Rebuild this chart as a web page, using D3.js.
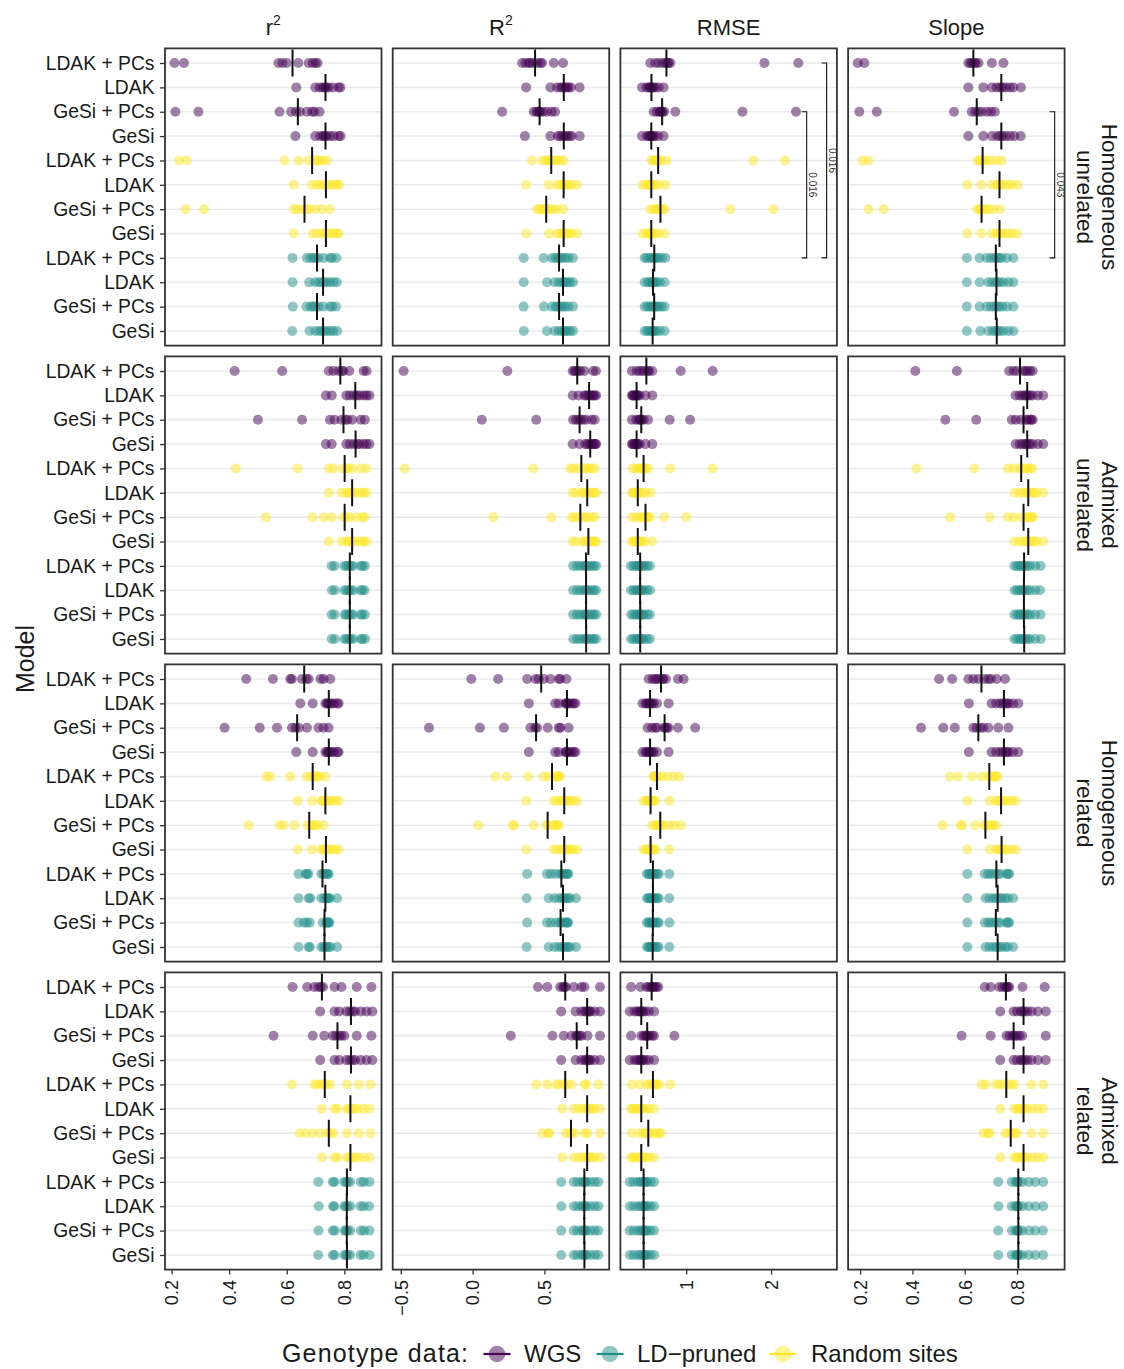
<!DOCTYPE html>
<html>
<head>
<meta charset="utf-8">
<script src="https://cdn.jsdelivr.net/npm/d3@7"></script>
<style>
  body { margin: 0; background: #fff; }
  svg { display: block; font-family: "Liberation Sans", Arial, Helvetica, sans-serif; }
</style>
</head>
<body>
<svg id="chart" width="1124" height="1369"></svg>
<script>
// ---- categories -------------------------------------------------------------
const metrics = ["r2", "R2", "RMSE", "Slope"];
const scenarios = [
  ["Homogeneous", "unrelated"],
  ["Admixed", "unrelated"],
  ["Homogeneous", "related"],
  ["Admixed", "related"]
];
const models = ["LDAK + PCs", "LDAK", "GeSi + PCs", "GeSi"];
const genotypes = ["WGS", "LD\u2212pruned", "Random sites"];
const genotypeColors = ["#440154", "#21908C", "#FDE725"];
// genotype index of each of the 12 rows in a panel (top to bottom)
const rowGenotype = [0, 0, 0, 0, 2, 2, 2, 2, 1, 1, 1, 1];
const rowModel = [0, 1, 2, 3, 0, 1, 2, 3, 0, 1, 2, 3];

// ---- tick labels ------------------------------------------------------------
const xTicks = [[0.2, 0.4, 0.6, 0.8], [-0.5, 0, 0.5], [1, 2], [0.2, 0.4, 0.6, 0.8]];
const xDomains = [[0.177, 0.929], [-0.556, 0.951], [0.224, 2.776], [0.154, 0.982]];

// ---- replicate values: one array of 10 replicates per row -------------------
// Homogeneous, unrelated
const hu_r2 = [
  [0.21, 0.243, 0.571, 0.585, 0.60, 0.64, 0.676, 0.69, 0.70, 0.707],
  [0.633, 0.699, 0.714, 0.725, 0.732, 0.737, 0.745, 0.76, 0.78, 0.786],
  [0.213, 0.293, 0.575, 0.615, 0.632, 0.645, 0.67, 0.688, 0.696, 0.714],
  [0.63, 0.699, 0.716, 0.726, 0.732, 0.737, 0.75, 0.762, 0.78, 0.787],
  [0.226, 0.253, 0.592, 0.641, 0.676, 0.70, 0.705, 0.714, 0.728, 0.74],
  [0.624, 0.688, 0.705, 0.717, 0.732, 0.74, 0.751, 0.763, 0.775, 0.782],
  [0.249, 0.313, 0.624, 0.636, 0.655, 0.668, 0.678, 0.699, 0.722, 0.749],
  [0.624, 0.69, 0.705, 0.72, 0.732, 0.74, 0.752, 0.763, 0.775, 0.78],
  [0.62, 0.67, 0.682, 0.693, 0.70, 0.71, 0.728, 0.751, 0.757, 0.772],
  [0.62, 0.678, 0.699, 0.711, 0.722, 0.73, 0.74, 0.751, 0.763, 0.774],
  [0.621, 0.668, 0.683, 0.692, 0.699, 0.711, 0.727, 0.75, 0.758, 0.771],
  [0.619, 0.679, 0.698, 0.712, 0.721, 0.731, 0.741, 0.752, 0.762, 0.775]
];
const hu_R2 = [
  [0.345, 0.368, 0.391, 0.403, 0.42, 0.45, 0.472, 0.484, 0.565, 0.63],
  [0.373, 0.542, 0.588, 0.611, 0.627, 0.643, 0.657, 0.668, 0.685, 0.745],
  [0.206, 0.426, 0.444, 0.456, 0.463, 0.47, 0.49, 0.516, 0.55, 0.574],
  [0.364, 0.542, 0.593, 0.611, 0.627, 0.643, 0.657, 0.675, 0.69, 0.745],
  [0.414, 0.484, 0.507, 0.523, 0.542, 0.553, 0.57, 0.588, 0.611, 0.634],
  [0.373, 0.53, 0.588, 0.611, 0.627, 0.641, 0.65, 0.668, 0.69, 0.727],
  [0.45, 0.465, 0.484, 0.495, 0.507, 0.518, 0.537, 0.56, 0.588, 0.63],
  [0.373, 0.532, 0.588, 0.611, 0.627, 0.641, 0.652, 0.668, 0.69, 0.727],
  [0.356, 0.495, 0.553, 0.576, 0.593, 0.611, 0.627, 0.646, 0.668, 0.698],
  [0.356, 0.518, 0.57, 0.60, 0.622, 0.637, 0.646, 0.662, 0.68, 0.70],
  [0.355, 0.497, 0.553, 0.577, 0.592, 0.612, 0.627, 0.645, 0.668, 0.699],
  [0.357, 0.518, 0.571, 0.60, 0.621, 0.638, 0.646, 0.663, 0.68, 0.70]
];
const hu_rmse = [
  [0.576, 0.635, 0.675, 0.722, 0.753, 0.78, 0.792, 0.812, 1.921, 2.321],
  [0.479, 0.53, 0.557, 0.573, 0.584, 0.596, 0.612, 0.635, 0.675, 0.733],
  [0.616, 0.655, 0.682, 0.698, 0.71, 0.722, 0.741, 0.871, 1.663, 2.294],
  [0.479, 0.537, 0.557, 0.573, 0.584, 0.592, 0.612, 0.627, 0.67, 0.733],
  [0.588, 0.616, 0.635, 0.655, 0.663, 0.675, 0.706, 0.773, 1.792, 2.165],
  [0.486, 0.53, 0.557, 0.573, 0.584, 0.592, 0.604, 0.635, 0.675, 0.753],
  [0.576, 0.616, 0.643, 0.667, 0.686, 0.706, 0.722, 0.745, 1.518, 2.027],
  [0.486, 0.53, 0.557, 0.573, 0.584, 0.592, 0.604, 0.635, 0.675, 0.745],
  [0.51, 0.537, 0.569, 0.596, 0.616, 0.631, 0.651, 0.675, 0.714, 0.753],
  [0.51, 0.545, 0.569, 0.592, 0.604, 0.612, 0.631, 0.655, 0.69, 0.745],
  [0.51, 0.541, 0.569, 0.596, 0.616, 0.628, 0.651, 0.675, 0.71, 0.745],
  [0.51, 0.537, 0.565, 0.588, 0.60, 0.608, 0.627, 0.651, 0.69, 0.745]
];
const hu_slope = [
  [0.191, 0.216, 0.614, 0.622, 0.629, 0.637, 0.643, 0.653, 0.704, 0.748],
  [0.614, 0.671, 0.704, 0.722, 0.735, 0.745, 0.757, 0.773, 0.786, 0.815],
  [0.197, 0.264, 0.559, 0.627, 0.64, 0.652, 0.664, 0.684, 0.70, 0.715],
  [0.614, 0.671, 0.704, 0.725, 0.735, 0.745, 0.757, 0.773, 0.79, 0.814],
  [0.209, 0.232, 0.65, 0.659, 0.666, 0.671, 0.684, 0.70, 0.722, 0.741],
  [0.61, 0.664, 0.704, 0.722, 0.728, 0.738, 0.748, 0.767, 0.78, 0.802],
  [0.232, 0.29, 0.648, 0.659, 0.662, 0.667, 0.68, 0.692, 0.709, 0.735],
  [0.61, 0.664, 0.704, 0.722, 0.728, 0.738, 0.748, 0.767, 0.78, 0.80],
  [0.608, 0.657, 0.684, 0.70, 0.714, 0.724, 0.731, 0.741, 0.761, 0.786],
  [0.608, 0.657, 0.69, 0.704, 0.717, 0.726, 0.735, 0.748, 0.767, 0.786],
  [0.608, 0.657, 0.684, 0.70, 0.714, 0.724, 0.731, 0.744, 0.761, 0.786],
  [0.608, 0.66, 0.69, 0.707, 0.718, 0.727, 0.735, 0.748, 0.767, 0.786]
];

// Admixed, unrelated
const au_r2 = [
  [0.419, 0.584, 0.746, 0.762, 0.78, 0.792, 0.797, 0.817, 0.867, 0.877],
  [0.736, 0.756, 0.807, 0.819, 0.833, 0.843, 0.853, 0.867, 0.877, 0.887],
  [0.50, 0.653, 0.75, 0.766, 0.79, 0.804, 0.811, 0.827, 0.857, 0.871],
  [0.736, 0.756, 0.807, 0.819, 0.833, 0.845, 0.853, 0.867, 0.877, 0.887],
  [0.423, 0.637, 0.746, 0.762, 0.795, 0.807, 0.815, 0.828, 0.857, 0.877],
  [0.746, 0.79, 0.807, 0.815, 0.823, 0.831, 0.843, 0.857, 0.867, 0.877],
  [0.528, 0.689, 0.729, 0.756, 0.795, 0.807, 0.82, 0.843, 0.863, 0.871],
  [0.746, 0.79, 0.807, 0.815, 0.823, 0.831, 0.843, 0.857, 0.867, 0.877],
  [0.756, 0.766, 0.80, 0.807, 0.815, 0.823, 0.83, 0.857, 0.863, 0.871],
  [0.757, 0.767, 0.80, 0.808, 0.816, 0.822, 0.831, 0.856, 0.863, 0.87],
  [0.756, 0.766, 0.801, 0.807, 0.815, 0.823, 0.83, 0.857, 0.862, 0.871],
  [0.756, 0.767, 0.80, 0.807, 0.816, 0.822, 0.831, 0.857, 0.863, 0.872]
];
const au_R2 = [
  [-0.48, 0.242, 0.697, 0.71, 0.72, 0.737, 0.75, 0.778, 0.84, 0.859],
  [0.697, 0.737, 0.778, 0.79, 0.805, 0.817, 0.83, 0.84, 0.85, 0.86],
  [0.064, 0.443, 0.70, 0.72, 0.737, 0.753, 0.77, 0.79, 0.83, 0.85],
  [0.697, 0.745, 0.785, 0.80, 0.812, 0.826, 0.835, 0.845, 0.855, 0.86],
  [-0.472, 0.423, 0.68, 0.70, 0.737, 0.777, 0.79, 0.805, 0.83, 0.85],
  [0.697, 0.72, 0.76, 0.78, 0.792, 0.804, 0.815, 0.83, 0.85, 0.86],
  [0.145, 0.548, 0.69, 0.71, 0.735, 0.765, 0.78, 0.80, 0.83, 0.85],
  [0.697, 0.72, 0.765, 0.785, 0.80, 0.812, 0.82, 0.835, 0.85, 0.86],
  [0.70, 0.725, 0.745, 0.77, 0.785, 0.795, 0.81, 0.83, 0.845, 0.86],
  [0.70, 0.726, 0.746, 0.77, 0.786, 0.794, 0.81, 0.83, 0.846, 0.86],
  [0.70, 0.725, 0.745, 0.771, 0.785, 0.795, 0.81, 0.831, 0.845, 0.861],
  [0.701, 0.725, 0.745, 0.77, 0.785, 0.796, 0.811, 0.83, 0.845, 0.86]
];
const au_rmse = [
  [0.36, 0.415, 0.45, 0.48, 0.51, 0.55, 0.56, 0.60, 0.935, 1.311],
  [0.36, 0.37, 0.38, 0.395, 0.41, 0.42, 0.43, 0.45, 0.52, 0.60],
  [0.36, 0.41, 0.44, 0.455, 0.465, 0.475, 0.50, 0.55, 0.805, 1.045],
  [0.36, 0.37, 0.385, 0.395, 0.41, 0.42, 0.43, 0.45, 0.52, 0.60],
  [0.37, 0.40, 0.44, 0.46, 0.49, 0.505, 0.52, 0.55, 0.81, 1.311],
  [0.36, 0.38, 0.395, 0.41, 0.42, 0.438, 0.45, 0.48, 0.52, 0.58],
  [0.36, 0.41, 0.46, 0.49, 0.51, 0.53, 0.55, 0.57, 0.74, 1.00],
  [0.36, 0.38, 0.395, 0.41, 0.42, 0.438, 0.455, 0.48, 0.52, 0.60],
  [0.35, 0.38, 0.41, 0.43, 0.45, 0.464, 0.48, 0.50, 0.54, 0.57],
  [0.35, 0.381, 0.41, 0.431, 0.45, 0.463, 0.48, 0.501, 0.54, 0.572],
  [0.352, 0.38, 0.41, 0.43, 0.451, 0.464, 0.479, 0.50, 0.541, 0.57],
  [0.35, 0.38, 0.411, 0.43, 0.45, 0.465, 0.48, 0.50, 0.54, 0.571]
];
const au_slope = [
  [0.411, 0.57, 0.77, 0.787, 0.80, 0.823, 0.832, 0.84, 0.85, 0.86],
  [0.795, 0.81, 0.82, 0.83, 0.835, 0.843, 0.85, 0.86, 0.88, 0.90],
  [0.526, 0.644, 0.78, 0.795, 0.815, 0.835, 0.84, 0.85, 0.855, 0.86],
  [0.795, 0.81, 0.82, 0.83, 0.835, 0.843, 0.85, 0.86, 0.88, 0.90],
  [0.415, 0.637, 0.765, 0.787, 0.81, 0.822, 0.83, 0.84, 0.85, 0.858],
  [0.79, 0.81, 0.825, 0.835, 0.84, 0.846, 0.855, 0.865, 0.875, 0.90],
  [0.544, 0.695, 0.765, 0.787, 0.815, 0.835, 0.84, 0.85, 0.855, 0.86],
  [0.79, 0.81, 0.825, 0.835, 0.84, 0.846, 0.855, 0.865, 0.875, 0.90],
  [0.79, 0.80, 0.81, 0.815, 0.823, 0.831, 0.84, 0.85, 0.87, 0.89],
  [0.791, 0.80, 0.81, 0.816, 0.823, 0.83, 0.84, 0.851, 0.87, 0.888],
  [0.79, 0.801, 0.81, 0.815, 0.822, 0.831, 0.841, 0.85, 0.869, 0.89],
  [0.79, 0.80, 0.811, 0.815, 0.823, 0.832, 0.84, 0.85, 0.87, 0.891]
];

// Homogeneous, related
const hr_r2 = [
  [0.459, 0.552, 0.612, 0.618, 0.653, 0.668, 0.676, 0.717, 0.728, 0.751],
  [0.647, 0.69, 0.734, 0.74, 0.743, 0.749, 0.755, 0.763, 0.775, 0.78],
  [0.384, 0.506, 0.566, 0.618, 0.63, 0.642, 0.67, 0.71, 0.728, 0.745],
  [0.633, 0.69, 0.734, 0.74, 0.743, 0.749, 0.755, 0.763, 0.775, 0.78],
  [0.529, 0.543, 0.612, 0.67, 0.685, 0.695, 0.70, 0.705, 0.715, 0.734],
  [0.638, 0.688, 0.72, 0.726, 0.73, 0.738, 0.745, 0.755, 0.77, 0.78],
  [0.467, 0.575, 0.59, 0.627, 0.672, 0.684, 0.692, 0.70, 0.706, 0.728],
  [0.638, 0.688, 0.72, 0.728, 0.732, 0.74, 0.746, 0.757, 0.77, 0.78],
  [0.641, 0.665, 0.67, 0.675, 0.72, 0.728, 0.734, 0.738, 0.742, 0.745],
  [0.641, 0.676, 0.682, 0.72, 0.73, 0.738, 0.742, 0.745, 0.75, 0.775],
  [0.641, 0.66, 0.67, 0.68, 0.725, 0.737, 0.74, 0.742, 0.745, 0.748],
  [0.641, 0.676, 0.68, 0.72, 0.728, 0.734, 0.74, 0.745, 0.752, 0.775]
];
const hr_R2 = [
  [-0.009, 0.178, 0.38, 0.4375, 0.46, 0.495, 0.542, 0.60, 0.611, 0.653],
  [0.392, 0.576, 0.60, 0.645, 0.652, 0.662, 0.67, 0.69, 0.704, 0.716],
  [-0.303, 0.051, 0.218, 0.403, 0.435, 0.449, 0.523, 0.60, 0.611, 0.668],
  [0.392, 0.576, 0.60, 0.645, 0.652, 0.662, 0.67, 0.69, 0.704, 0.716],
  [0.16, 0.236, 0.387, 0.495, 0.53, 0.576, 0.585, 0.595, 0.60, 0.605],
  [0.373, 0.565, 0.588, 0.62, 0.633, 0.643, 0.66, 0.68, 0.70, 0.727],
  [0.039, 0.28, 0.29, 0.426, 0.515, 0.53, 0.565, 0.58, 0.59, 0.60],
  [0.373, 0.565, 0.588, 0.62, 0.633, 0.643, 0.66, 0.68, 0.70, 0.727],
  [0.38, 0.518, 0.545, 0.576, 0.61, 0.626, 0.64, 0.655, 0.66, 0.665],
  [0.376, 0.53, 0.57, 0.60, 0.622, 0.637, 0.65, 0.665, 0.68, 0.72],
  [0.38, 0.518, 0.545, 0.58, 0.605, 0.62, 0.64, 0.655, 0.66, 0.665],
  [0.376, 0.53, 0.57, 0.60, 0.622, 0.637, 0.65, 0.665, 0.68, 0.72]
];
const hr_rmse = [
  [0.557, 0.604, 0.635, 0.655, 0.685, 0.72, 0.73, 0.761, 0.902, 0.969],
  [0.486, 0.52, 0.537, 0.557, 0.567, 0.58, 0.596, 0.616, 0.655, 0.792],
  [0.545, 0.596, 0.635, 0.655, 0.737, 0.753, 0.773, 0.79, 0.902, 1.106],
  [0.486, 0.52, 0.537, 0.557, 0.567, 0.58, 0.596, 0.616, 0.655, 0.792],
  [0.616, 0.625, 0.635, 0.645, 0.65, 0.66, 0.72, 0.78, 0.85, 0.92],
  [0.498, 0.53, 0.55, 0.565, 0.575, 0.585, 0.60, 0.62, 0.64, 0.80],
  [0.60, 0.63, 0.66, 0.675, 0.69, 0.698, 0.73, 0.80, 0.86, 0.94],
  [0.498, 0.53, 0.55, 0.565, 0.575, 0.585, 0.60, 0.62, 0.64, 0.80],
  [0.537, 0.557, 0.57, 0.59, 0.60, 0.615, 0.635, 0.66, 0.675, 0.80],
  [0.537, 0.555, 0.571, 0.59, 0.601, 0.614, 0.636, 0.66, 0.676, 0.80],
  [0.536, 0.557, 0.57, 0.591, 0.60, 0.613, 0.635, 0.661, 0.675, 0.801],
  [0.537, 0.556, 0.57, 0.59, 0.598, 0.611, 0.634, 0.66, 0.674, 0.80]
];
const hr_slope = [
  [0.502, 0.552, 0.614, 0.633, 0.652, 0.676, 0.69, 0.70, 0.722, 0.754],
  [0.616, 0.703, 0.72, 0.735, 0.745, 0.755, 0.762, 0.77, 0.785, 0.805],
  [0.433, 0.518, 0.562, 0.633, 0.645, 0.659, 0.67, 0.69, 0.728, 0.767],
  [0.616, 0.703, 0.72, 0.735, 0.745, 0.755, 0.762, 0.77, 0.785, 0.805],
  [0.543, 0.575, 0.627, 0.664, 0.688, 0.70, 0.71, 0.715, 0.72, 0.725],
  [0.61, 0.696, 0.72, 0.73, 0.735, 0.743, 0.75, 0.765, 0.78, 0.795],
  [0.515, 0.585, 0.59, 0.64, 0.675, 0.683, 0.69, 0.70, 0.71, 0.72],
  [0.61, 0.696, 0.72, 0.73, 0.737, 0.745, 0.752, 0.765, 0.78, 0.795],
  [0.61, 0.677, 0.69, 0.70, 0.715, 0.727, 0.735, 0.76, 0.765, 0.77],
  [0.61, 0.68, 0.695, 0.71, 0.72, 0.732, 0.74, 0.755, 0.765, 0.785],
  [0.61, 0.677, 0.69, 0.70, 0.713, 0.725, 0.735, 0.76, 0.765, 0.77],
  [0.61, 0.68, 0.695, 0.71, 0.72, 0.732, 0.74, 0.755, 0.765, 0.785]
];

// Admixed, related
const ar_r2 = [
  [0.62, 0.671, 0.695, 0.71, 0.718, 0.726, 0.766, 0.79, 0.843, 0.894],
  [0.716, 0.766, 0.782, 0.807, 0.818, 0.828, 0.837, 0.857, 0.877, 0.897],
  [0.554, 0.69, 0.73, 0.76, 0.77, 0.782, 0.79, 0.80, 0.843, 0.894],
  [0.716, 0.766, 0.782, 0.807, 0.818, 0.828, 0.837, 0.857, 0.877, 0.897],
  [0.618, 0.695, 0.705, 0.72, 0.728, 0.736, 0.75, 0.809, 0.85, 0.89],
  [0.722, 0.766, 0.776, 0.81, 0.818, 0.824, 0.835, 0.847, 0.867, 0.887],
  [0.645, 0.665, 0.69, 0.716, 0.742, 0.75, 0.762, 0.809, 0.85, 0.89],
  [0.722, 0.766, 0.776, 0.81, 0.818, 0.824, 0.835, 0.847, 0.867, 0.887],
  [0.71, 0.76, 0.766, 0.80, 0.806, 0.812, 0.82, 0.857, 0.867, 0.887],
  [0.711, 0.761, 0.765, 0.80, 0.805, 0.812, 0.821, 0.856, 0.867, 0.886],
  [0.71, 0.76, 0.767, 0.801, 0.806, 0.811, 0.82, 0.857, 0.868, 0.887],
  [0.709, 0.76, 0.766, 0.80, 0.806, 0.812, 0.82, 0.856, 0.867, 0.888]
];
const ar_R2 = [
  [0.455, 0.52, 0.61, 0.63, 0.64, 0.65, 0.705, 0.757, 0.778, 0.887],
  [0.617, 0.717, 0.757, 0.78, 0.79, 0.805, 0.815, 0.82, 0.85, 0.887],
  [0.266, 0.556, 0.635, 0.69, 0.72, 0.73, 0.745, 0.757, 0.80, 0.887],
  [0.617, 0.717, 0.757, 0.78, 0.79, 0.805, 0.815, 0.82, 0.85, 0.887],
  [0.443, 0.52, 0.585, 0.60, 0.635, 0.655, 0.69, 0.78, 0.79, 0.875],
  [0.625, 0.705, 0.737, 0.77, 0.79, 0.805, 0.815, 0.83, 0.85, 0.887],
  [0.485, 0.53, 0.53, 0.65, 0.68, 0.69, 0.71, 0.78, 0.80, 0.887],
  [0.625, 0.705, 0.737, 0.77, 0.79, 0.805, 0.815, 0.83, 0.85, 0.887],
  [0.617, 0.705, 0.73, 0.76, 0.772, 0.784, 0.79, 0.82, 0.85, 0.875],
  [0.618, 0.705, 0.731, 0.76, 0.771, 0.784, 0.791, 0.82, 0.85, 0.876],
  [0.617, 0.704, 0.73, 0.761, 0.772, 0.783, 0.79, 0.821, 0.85, 0.875],
  [0.617, 0.705, 0.73, 0.76, 0.772, 0.785, 0.79, 0.82, 0.851, 0.875]
];
const ar_rmse = [
  [0.35, 0.46, 0.53, 0.56, 0.585, 0.60, 0.61, 0.63, 0.65, 0.67],
  [0.334, 0.39, 0.42, 0.445, 0.46, 0.48, 0.49, 0.52, 0.56, 0.621],
  [0.35, 0.47, 0.50, 0.52, 0.535, 0.545, 0.57, 0.60, 0.62, 0.86],
  [0.334, 0.39, 0.42, 0.445, 0.46, 0.48, 0.49, 0.52, 0.56, 0.621],
  [0.36, 0.45, 0.53, 0.57, 0.60, 0.615, 0.63, 0.65, 0.68, 0.81],
  [0.35, 0.37, 0.40, 0.44, 0.465, 0.475, 0.49, 0.52, 0.56, 0.62],
  [0.36, 0.45, 0.50, 0.52, 0.545, 0.56, 0.60, 0.64, 0.68, 0.70],
  [0.35, 0.37, 0.40, 0.44, 0.465, 0.475, 0.49, 0.52, 0.56, 0.62],
  [0.334, 0.38, 0.43, 0.46, 0.49, 0.505, 0.52, 0.54, 0.58, 0.62],
  [0.335, 0.38, 0.431, 0.46, 0.491, 0.504, 0.52, 0.541, 0.58, 0.621],
  [0.334, 0.381, 0.43, 0.461, 0.49, 0.505, 0.519, 0.54, 0.579, 0.62],
  [0.336, 0.38, 0.43, 0.46, 0.49, 0.506, 0.52, 0.54, 0.58, 0.622]
];
const ar_slope = [
  [0.677, 0.699, 0.732, 0.745, 0.755, 0.76, 0.765, 0.77, 0.821, 0.906],
  [0.736, 0.787, 0.80, 0.815, 0.82, 0.83, 0.84, 0.856, 0.88, 0.91],
  [0.588, 0.699, 0.76, 0.772, 0.783, 0.791, 0.80, 0.81, 0.82, 0.91],
  [0.736, 0.787, 0.80, 0.815, 0.82, 0.83, 0.84, 0.856, 0.88, 0.91],
  [0.665, 0.68, 0.72, 0.735, 0.75, 0.768, 0.78, 0.79, 0.855, 0.90],
  [0.736, 0.79, 0.80, 0.81, 0.82, 0.83, 0.84, 0.86, 0.88, 0.90],
  [0.673, 0.69, 0.695, 0.755, 0.77, 0.782, 0.79, 0.80, 0.855, 0.90],
  [0.736, 0.79, 0.80, 0.81, 0.82, 0.83, 0.84, 0.86, 0.88, 0.90],
  [0.728, 0.78, 0.795, 0.80, 0.803, 0.807, 0.82, 0.845, 0.87, 0.90],
  [0.729, 0.78, 0.794, 0.80, 0.804, 0.806, 0.821, 0.845, 0.871, 0.90],
  [0.728, 0.781, 0.795, 0.801, 0.803, 0.807, 0.82, 0.846, 0.87, 0.899],
  [0.728, 0.78, 0.795, 0.80, 0.802, 0.808, 0.82, 0.845, 0.87, 0.90]
];

// pairwise comparison brackets (p-values)
const brackets = [
  { row: 0, col: 2, from: 0, to: 8, at: 2.655, label: "0.016" },
  { row: 0, col: 2, from: 2, to: 8, at: 2.42, label: "0.016" },
  { row: 0, col: 3, from: 2, to: 8, at: 0.944, label: "0.043" }
];

const panelData = [
  [hu_r2, hu_R2, hu_rmse, hu_slope],
  [au_r2, au_R2, au_rmse, au_slope],
  [hr_r2, hr_R2, hr_rmse, hr_slope],
  [ar_r2, ar_R2, ar_rmse, ar_slope]
];

// ---- layout -----------------------------------------------------------------
const svg = d3.select("#chart");
const colLeft = [165, 392.7, 620.4, 848.1];
const panelW = 216.5;
const rowTop = [48.4, 356.4, 664.4, 972.4];
const panelH = 297.2;
const textColor = "#1a1a1a";

const xScales = xDomains.map((dom, c) =>
  d3.scaleLinear().domain(dom).range([colLeft[c], colLeft[c] + panelW]));
const yScales = rowTop.map(top =>
  d3.scalePoint().domain(d3.range(12)).range([top, top + panelH]).padding(0.6));

const defs = svg.append("defs");

panelData.forEach((rowPanels, r) => {
  const y = yScales[r];
  rowPanels.forEach((values, c) => {
    const x = xScales[c];
    const left = colLeft[c], top = rowTop[r];
    const clipId = `clip-${r}-${c}`;
    defs.append("clipPath").attr("id", clipId)
      .append("rect").attr("x", left).attr("y", top).attr("width", panelW).attr("height", panelH);

    const g = svg.append("g").attr("clip-path", `url(#${clipId})`);

    // horizontal grid at each model row
    g.selectAll("line.grid").data(d3.range(12)).join("line")
      .attr("class", "grid")
      .attr("x1", left).attr("x2", left + panelW)
      .attr("y1", d => y(d)).attr("y2", d => y(d))
      .attr("stroke", "#ebebeb").attr("stroke-width", 1.5);

    // replicate points
    const pts = values.flatMap((vals, i) => vals.map(v => ({ i, v })));
    g.selectAll("circle").data(pts).join("circle")
      .attr("cx", d => x(d.v)).attr("cy", d => y(d.i))
      .attr("r", 5)
      .attr("fill", d => genotypeColors[rowGenotype[d.i]])
      .attr("fill-opacity", 0.5);

    // median of each row
    g.selectAll("line.median").data(values.map((vals, i) => ({ i, m: d3.median(vals) }))).join("line")
      .attr("class", "median")
      .attr("x1", d => x(d.m)).attr("x2", d => x(d.m))
      .attr("y1", d => y(d.i) - 13.5).attr("y2", d => y(d.i) + 13.5)
      .attr("stroke", "#111").attr("stroke-width", 2);

    // comparison brackets
    brackets.filter(b => b.row === r && b.col === c).forEach(b => {
      const bx = x(b.at), y1 = y(b.from), y2 = y(b.to);
      g.append("path")
        .attr("d", `M${bx - 5},${y1}H${bx}V${y2}H${bx - 5}`)
        .attr("fill", "none").attr("stroke", "#111").attr("stroke-width", 1.1);
      g.append("text")
        .attr("transform", `translate(${bx + 6},${(y1 + y2) / 2}) rotate(90)`)
        .attr("text-anchor", "middle").attr("dominant-baseline", "central")
        .attr("font-size", 10).attr("fill", "#333")
        .text(b.label);
    });

    // panel border
    svg.append("rect")
      .attr("x", left).attr("y", top).attr("width", panelW).attr("height", panelH)
      .attr("fill", "none").attr("stroke", "#333").attr("stroke-width", 1.8);

    // model axis on the first column
    if (c === 0) {
      const ax = svg.append("g").attr("transform", `translate(${left},0)`)
        .call(d3.axisLeft(y).tickSize(5).tickPadding(5.5).tickFormat(i => models[rowModel[i]]));
      ax.select(".domain").remove();
      ax.selectAll(".tick line").attr("stroke", "#333").attr("stroke-width", 1.3);
      ax.selectAll(".tick text").attr("font-size", 19.3).attr("fill", textColor)
        .attr("font-family", "Liberation Sans, Arial, sans-serif");
    }

    // value axis under the last row
    if (r === 3) {
      const fmt = c === 2 ? d3.format("d") : d3.format(".1f");
      const ax = svg.append("g").attr("transform", `translate(0,${top + panelH})`)
        .call(d3.axisBottom(x).tickValues(xTicks[c]).tickSize(5).tickFormat(fmt));
      ax.select(".domain").remove();
      ax.selectAll(".tick line").attr("stroke", "#333").attr("stroke-width", 1.3);
      ax.selectAll(".tick text")
        .attr("font-size", 18).attr("fill", textColor)
        .attr("font-family", "Liberation Sans, Arial, sans-serif")
        .attr("transform", "rotate(-90)")
        .attr("x", -10.5).attr("y", 0).attr("dy", "0.35em")
        .attr("text-anchor", "end");
    }
  });

  // scenario strip on the right
  const cy = rowTop[r] + panelH / 2;
  const strip = svg.append("g").attr("transform", `translate(1096.5,${cy}) rotate(90)`);
  scenarios[r].forEach((line, k) => {
    strip.append("text")
      .attr("x", 0).attr("y", k === 0 ? -12.5 : 12.5)
      .attr("text-anchor", "middle").attr("dominant-baseline", "central")
      .attr("font-size", 22.5).attr("fill", textColor)
      .text(line);
  });
});

// metric titles
metrics.forEach((m, c) => {
  const cx = colLeft[c] + panelW / 2;
  const t = svg.append("text").attr("x", cx).attr("y", 35)
    .attr("text-anchor", "middle").attr("font-size", 22).attr("fill", textColor);
  if (m === "r2" || m === "R2") {
    t.append("tspan").text(m[0]);
    t.append("tspan").attr("font-size", 14).attr("dy", -10).text("2");
  } else {
    t.text(m);
  }
});

// model axis title
svg.append("text")
  .attr("transform", "translate(25,659) rotate(-90)")
  .attr("text-anchor", "middle").attr("dominant-baseline", "central")
  .attr("font-size", 25).attr("fill", textColor)
  .text("Model");

// legend
const legend = svg.append("g");
const legendY = 1354;
legend.append("text").attr("x", 282).attr("y", legendY + 7.5)
  .attr("font-size", 25).attr("fill", textColor)
  .attr("textLength", 186).attr("lengthAdjust", "spacing")
  .text("Genotype data:");
const legendKeys = [
  { name: genotypes[0], color: genotypeColors[0], cx: 497, tx: 524 },
  { name: genotypes[1], color: genotypeColors[1], cx: 610, tx: 637 },
  { name: genotypes[2], color: genotypeColors[2], cx: 783, tx: 811 }
];
legendKeys.forEach(k => {
  legend.append("line").attr("x1", k.cx - 13.5).attr("x2", k.cx + 13.5)
    .attr("y1", legendY).attr("y2", legendY)
    .attr("stroke", k.color).attr("stroke-width", 2.2);
  legend.append("circle").attr("cx", k.cx).attr("cy", legendY).attr("r", 8.3)
    .attr("fill", k.color).attr("fill-opacity", 0.5);
  legend.append("text").attr("x", k.tx).attr("y", legendY + 7.5)
    .attr("font-size", 24).attr("fill", textColor).text(k.name);
});
</script>
</body>
</html>
